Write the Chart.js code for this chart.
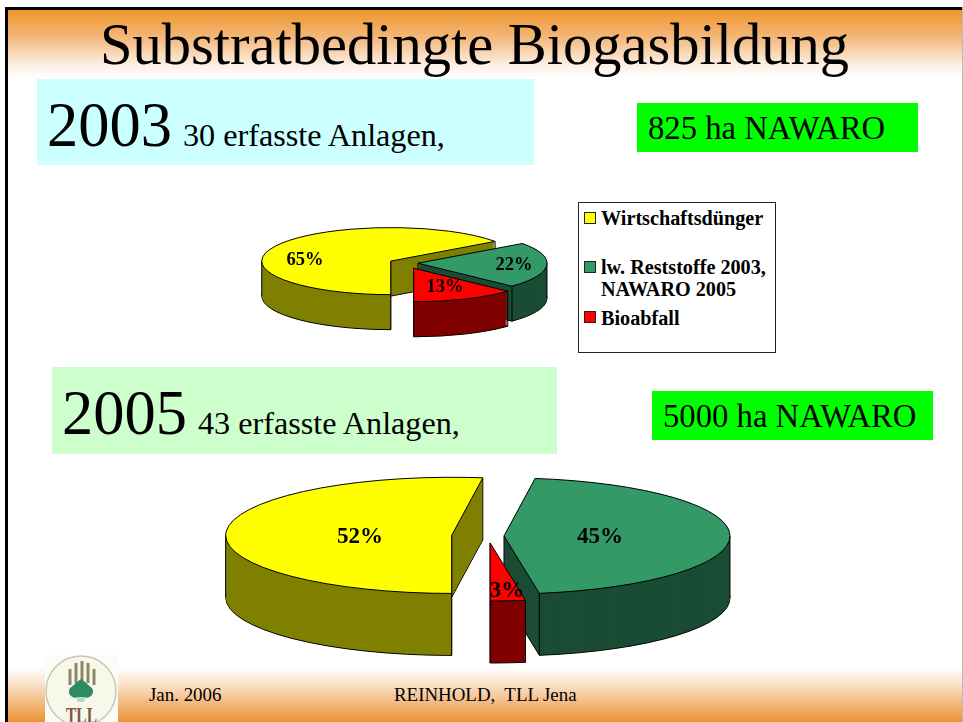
<!DOCTYPE html>
<html><head><meta charset="utf-8">
<style>
html,body{margin:0;padding:0;background:#fff;overflow:hidden}
#slide{position:relative;width:963px;height:722px;font-family:"Liberation Serif",serif;color:#000;overflow:hidden}
.abs{position:absolute;white-space:pre;line-height:1}
.box{position:absolute}
canvas{position:absolute}
.leg{position:absolute;font-weight:bold;font-size:20.2px;white-space:pre;line-height:1}
.sw{position:absolute;width:10px;height:10px;border:1px solid #222}
</style>
<script src="https://cdn.jsdelivr.net/npm/chart.js@4"></script>
</head><body>
<div id="slide">
<div class="box" style="left:5px;top:7px;width:3px;height:715px;background:#000"></div>
<div class="box" style="left:5px;top:7px;width:958px;height:3px;background:#000"></div>
<div class="box" style="left:962px;top:7px;width:1px;height:715px;background:#bbb"></div>
<div class="box" style="left:8px;top:10px;width:954px;height:68px;background:linear-gradient(#ef962c,#f3b779 40%,#fdf1e6 82%,#fff)"></div>
<div class="box" style="left:8px;top:667px;width:954px;height:55px;background:linear-gradient(#fff,#fbe3cc 30%,#f2b67a 68%,#ec9232)"></div>

<div class="abs" style="left:100px;top:16px;font-size:58.5px" id="title">Substratbedingte Biogasbildung</div>

<div class="box" style="left:37px;top:79px;width:497px;height:86px;background:#ccffff"></div>
<div class="box" style="left:637px;top:103px;width:281px;height:49px;background:#00ff00"></div>
<div class="box" style="left:52px;top:367px;width:505px;height:87px;background:#ccffcc"></div>
<div class="box" style="left:652px;top:391px;width:281px;height:49px;background:#00ff00"></div>

<div class="abs" style="left:47px;top:94px;font-size:62.5px">2003</div>
<div class="abs" style="left:183px;top:119px;font-size:32.2px">30 erfasste Anlagen,</div>
<div class="abs" style="left:648px;top:112px;font-size:32.7px">825 ha NAWARO</div>
<div class="abs" style="left:62px;top:382px;font-size:62.5px">2005</div>
<div class="abs" style="left:198px;top:407px;font-size:32.2px">43 erfasste Anlagen,</div>
<div class="abs" style="left:663px;top:400px;font-size:32.7px">5000 ha NAWARO</div>

<div class="box" id="legend" style="left:578px;top:202px;width:196px;height:149px;border:1px solid #222;background:#fff"></div>

<canvas id="c2003" width="320" height="170" style="left:245px;top:178px"></canvas>
<canvas id="c2005" width="530" height="260" style="left:223px;top:406px"></canvas>

<svg class="box" style="left:45px;top:655px" width="73" height="67" viewBox="0 0 73 67">
<rect width="73" height="67" fill="#fdfbf8"/>
<circle cx="36" cy="36" r="35" fill="#f8f8ea" stroke="#c8c8b8" stroke-width="1.5"/>
<g stroke="#8f8568" stroke-width="3"><path d="M25 14V30M31 8V28M37 6V28M43 8V28M49 14V30"/></g>
<path d="M36 24C30 28 29 30 25 33C21 40 29 45 36 42C43 45 51 40 47 33C43 30 42 28 36 24Z" fill="#2e8a62"/>
<path d="M31 42H41L39 47H33Z" fill="#a6e0bf"/>
<text x="36.5" y="68" text-anchor="middle" font-family="Liberation Serif" font-weight="bold" font-size="24" textLength="31" lengthAdjust="spacingAndGlyphs" fill="#7a5a48">TLL</text>
</svg>

<div class="abs" style="left:149px;top:686px;font-size:18.9px">Jan. 2006</div>
<div class="abs" style="left:394px;top:686px;font-size:18.9px">REINHOLD,  TLL Jena</div>
</div>
<script>
const categories = ["Wirtschaftsdünger", "lw. Reststoffe 2003,\nNAWARO 2005", "Bioabfall"];
const values2003 = [65, 22, 13];
const values2005 = [52.2, 45.3, 2.5];
const topColors = ["#ffff00", "#339966", "#ff0000"];
const sideColors = ["#808000", "#1b4c35", "#800000"];

/* legend */
const legendEl = document.getElementById("legend");
const legendTops = [[5], [54, 76], [105]];
const swatchTops = [9, 58, 108];
categories.forEach((c, i) => {
  const sw = document.createElement("div");
  sw.className = "sw";
  sw.style.cssText = "left:5px;top:" + swatchTops[i] + "px;background:" + topColors[i];
  legendEl.appendChild(sw);
  c.split("\n").forEach((t, j) => {
    const d = document.createElement("div");
    d.className = "leg";
    d.textContent = t;
    d.style.left = "22px";
    d.style.top = legendTops[i][j] + "px";
    legendEl.appendChild(d);
  });
});

/* pseudo-3D pie drawn from the library's own arc elements */
const pie3d = {
  id: "pie3d",
  beforeDatasetsDraw(chart, args, o) {
    const ctx = chart.ctx;
    const arcs = chart.getDatasetMeta(0).data;
    const sq = o.squash, depth = o.depth;
    const base = ctx.stroke;
    ctx.stroke = function () {           // keep 1px lines under the squashed transform
      ctx.save(); ctx.setTransform(1, 0, 0, 1, 0, 0); base.call(ctx); ctx.restore();
    };
    arcs.forEach((arc, i) => {
      const mid = (arc.startAngle + arc.endAngle) / 2;
      const ex = Math.cos(mid) * o.explode[i], ey = Math.sin(mid) * o.explode[i];
      const opts = arc.options;
      const paint = (dy, fill, bw) => {
        ctx.save();
        ctx.translate(arc.x + ex, arc.y + ey * sq + dy);
        ctx.scale(1, sq);
        ctx.translate(-arc.x, -arc.y);
        arc.options = Object.assign({}, opts, { backgroundColor: fill, borderWidth: bw, borderColor: "#000", offset: 0 });
        arc.draw(ctx);
        arc.options = opts;
        ctx.restore();
      };
      paint(depth, sideColors[i], 1);
      for (let d = depth - 1; d > 0; d--) paint(d, sideColors[i], 0);
      // vertical edges
      const R = arc.outerRadius;
      const angs = [arc.startAngle, arc.endAngle];
      [0, Math.PI, 2 * Math.PI, 3 * Math.PI].forEach(a => { if (a > arc.startAngle && a < arc.endAngle) angs.push(a); });
      ctx.save();
      ctx.strokeStyle = "#000"; ctx.lineWidth = 1;
      const vline = (x, y) => { ctx.beginPath(); ctx.moveTo(x, y); ctx.lineTo(x, y + depth); ctx.stroke(); };
      vline(arc.x + ex, arc.y + ey * sq);
      angs.forEach(a => vline(arc.x + ex + R * Math.cos(a), arc.y + sq * (ey + R * Math.sin(a))));
      ctx.restore();
      paint(0, topColors[i], 1);
    });
    delete ctx.stroke;
    // value labels
    ctx.save();
    ctx.font = "bold " + o.fontSize + "px 'Liberation Serif'";
    ctx.fillStyle = "#000";
    ctx.textAlign = "center";
    ctx.textBaseline = "middle";
    arcs.forEach((arc, i) => {
      ctx.fillText(Math.round(chart.data.datasets[0].data[i]) + "%", arc.x + o.labelAt[i][0], arc.y + o.labelAt[i][1]);
    });
    ctx.restore();
    return false;
  }
};

function makePie(id, values, radius, pluginOpts) {
  return new Chart(document.getElementById(id), {
    type: "pie",
    data: {
      labels: categories.map(c => c.replace("\n", " ")),
      datasets: [{ data: values, backgroundColor: topColors, borderColor: "#000", borderWidth: 1 }]
    },
    options: {
      responsive: false,
      animation: false,
      events: [],
      rotation: 180,
      radius: radius,
      layout: { padding: 0 },
      plugins: { legend: { display: false }, tooltip: { enabled: false }, pie3d: pluginOpts }
    },
    plugins: [pie3d]
  });
}
makePie("c2003", values2003, 129, {
  squash: 0.26, depth: 35, explode: [16, 13, 22], fontSize: 18.5,
  labelAt: [[-100, -3], [109, 2], [40, 24]]
});
makePie("c2005", values2005, 226, {
  squash: 0.257, depth: 62, explode: [36.4, 16, 27], fontSize: 23,
  labelAt: [[-128, 1], [112, 1], [19, 55]]
});
</script>
</body></html>
